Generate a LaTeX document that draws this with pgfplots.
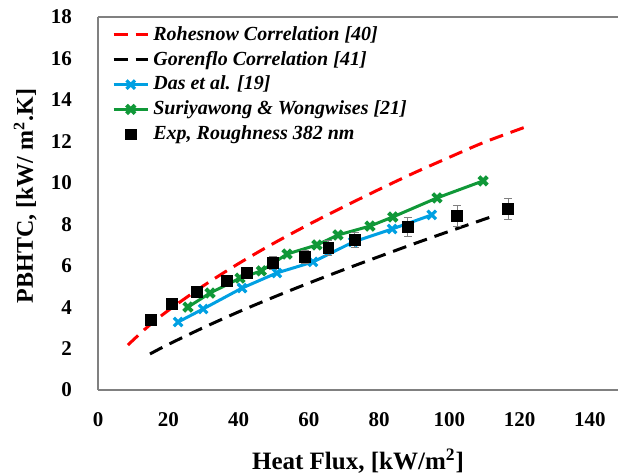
\documentclass[border=0pt]{standalone}
\usepackage{pgfplots}
\pgfplotsset{compat=1.18}
\usepackage{fontspec}
\setmainfont{Liberation Serif}
\definecolor{dasblue}{RGB}{0,160,226}
\definecolor{surgreen}{RGB}{16,152,56}
\definecolor{spine}{RGB}{128,128,128}
\begin{document}
\begin{tikzpicture}
\begin{axis}[
    scale only axis,
    width=260pt, height=186.5pt,
    xmin=0, xmax=148, ymin=0, ymax=18,
    xtick={0,20,...,140}, ytick={0,2,...,18},
    axis lines*=left,
    axis line style={-, spine, line width=0.8pt},
    major tick length=0pt,
    /pgf/number format/assume math mode=true,
    tick label style={font=\fontsize{10.5}{12}\selectfont\bfseries},
    xticklabel style={yshift=-7.5pt},
    yticklabel style={xshift=-9.5pt},
    xlabel={Heat Flux, [kW/m\textsuperscript{2}]},
    ylabel={PBHTC, [kW/ m\textsuperscript{2}.K]},
    xlabel style={font=\fontsize{12.5}{15}\selectfont\bfseries,
        at={(axis description cs:0.5,0)}, anchor=center, yshift=-35.5pt},
    ylabel style={font=\fontsize{12}{14}\selectfont\bfseries,
        at={(axis description cs:-0.14,0.52)}, anchor=center},
    clip=false,
    legend cell align=left,
    legend style={at={(0.015,0.998)}, anchor=north west, draw=none, fill=none,
        font=\fontsize{10}{12}\selectfont\bfseries\itshape,
        row sep=0pt},
]
\addplot[red, line width=1.5pt, dash pattern=on 7pt off 4pt, smooth] coordinates {
    (8.5,2.17) (14,3.03) (20,3.84) (30,5.03) (40,6.10) (50,7.08) (60,7.99)
    (70,8.85) (80,9.68) (90,10.48) (100,11.23) (110,11.96) (121.8,12.7)
};
\addlegendentry{Rohesnow Correlation [40]}

\addplot[black, line width=1.5pt, dash pattern=on 7pt off 4pt, smooth] coordinates {
    (14.8,1.74) (20,2.20) (30,3.01) (40,3.77) (50,4.48) (60,5.16)
    (70,5.81) (80,6.44) (90,7.06) (100,7.66) (113.5,8.45)
};
\addlegendentry{Gorenflo Correlation [41]}

\addplot[dasblue, line width=1.5pt, mark=x, mark size=3pt,
    mark options={solid, line width=1.6pt}] coordinates {
    (22.8,3.28) (29.9,3.91) (41,4.92) (50.9,5.65) (61.2,6.18)
    (72.6,7.14) (83.7,7.77) (95,8.45)
};
\addlegendentry{Das et al. [19]}

\addplot[surgreen, line width=1.5pt, mark=x, mark size=3pt,
    mark options={solid, line width=2pt}] coordinates {
    (25.6,4.0) (31.9,4.68) (40.4,5.4) (46.5,5.75) (53.8,6.56) (62.3,7.0)
    (68.3,7.48) (77.4,7.91) (83.9,8.35) (96.5,9.27) (109.6,10.09)
};
\addlegendentry{Suriyawong \& Wongwises [21]}

\addplot[only marks, mark=square*, mark size=2.6pt, black,
    error bars/.cd, y dir=both, y explicit,
    error bar style={spine, line width=0.5pt},
    error mark options={spine, mark size=2pt, rotate=90}] coordinates {
    (15.1,3.38) +- (0,0.15)
    (21,4.15) +- (0,0.15)
    (28.2,4.73) +- (0,0.2)
    (36.7,5.26) +- (0,0.2)
    (42.4,5.65) +- (0,0.25)
    (49.8,6.13) +- (0,0.3)
    (58.9,6.42) +- (0,0.3)
    (65.5,6.85) +- (0,0.35)
    (73.1,7.24) +- (0,0.35)
    (88.2,7.87) +- (0,0.45)
    (102.2,8.4) +- (0,0.5)
    (116.7,8.74) +- (0,0.5)
};
\addlegendentry{Exp, Roughness 382 nm}

\draw[spine, line width=0.8pt] (rel axis cs:0,1) -- (rel axis cs:1,1);
\end{axis}
\pgfresetboundingbox
\path ([shift={(-49pt,-41pt)}]current axis.south west)
    rectangle ([shift={(0pt,8.5pt)}]current axis.north east);
\end{tikzpicture}
\end{document}
